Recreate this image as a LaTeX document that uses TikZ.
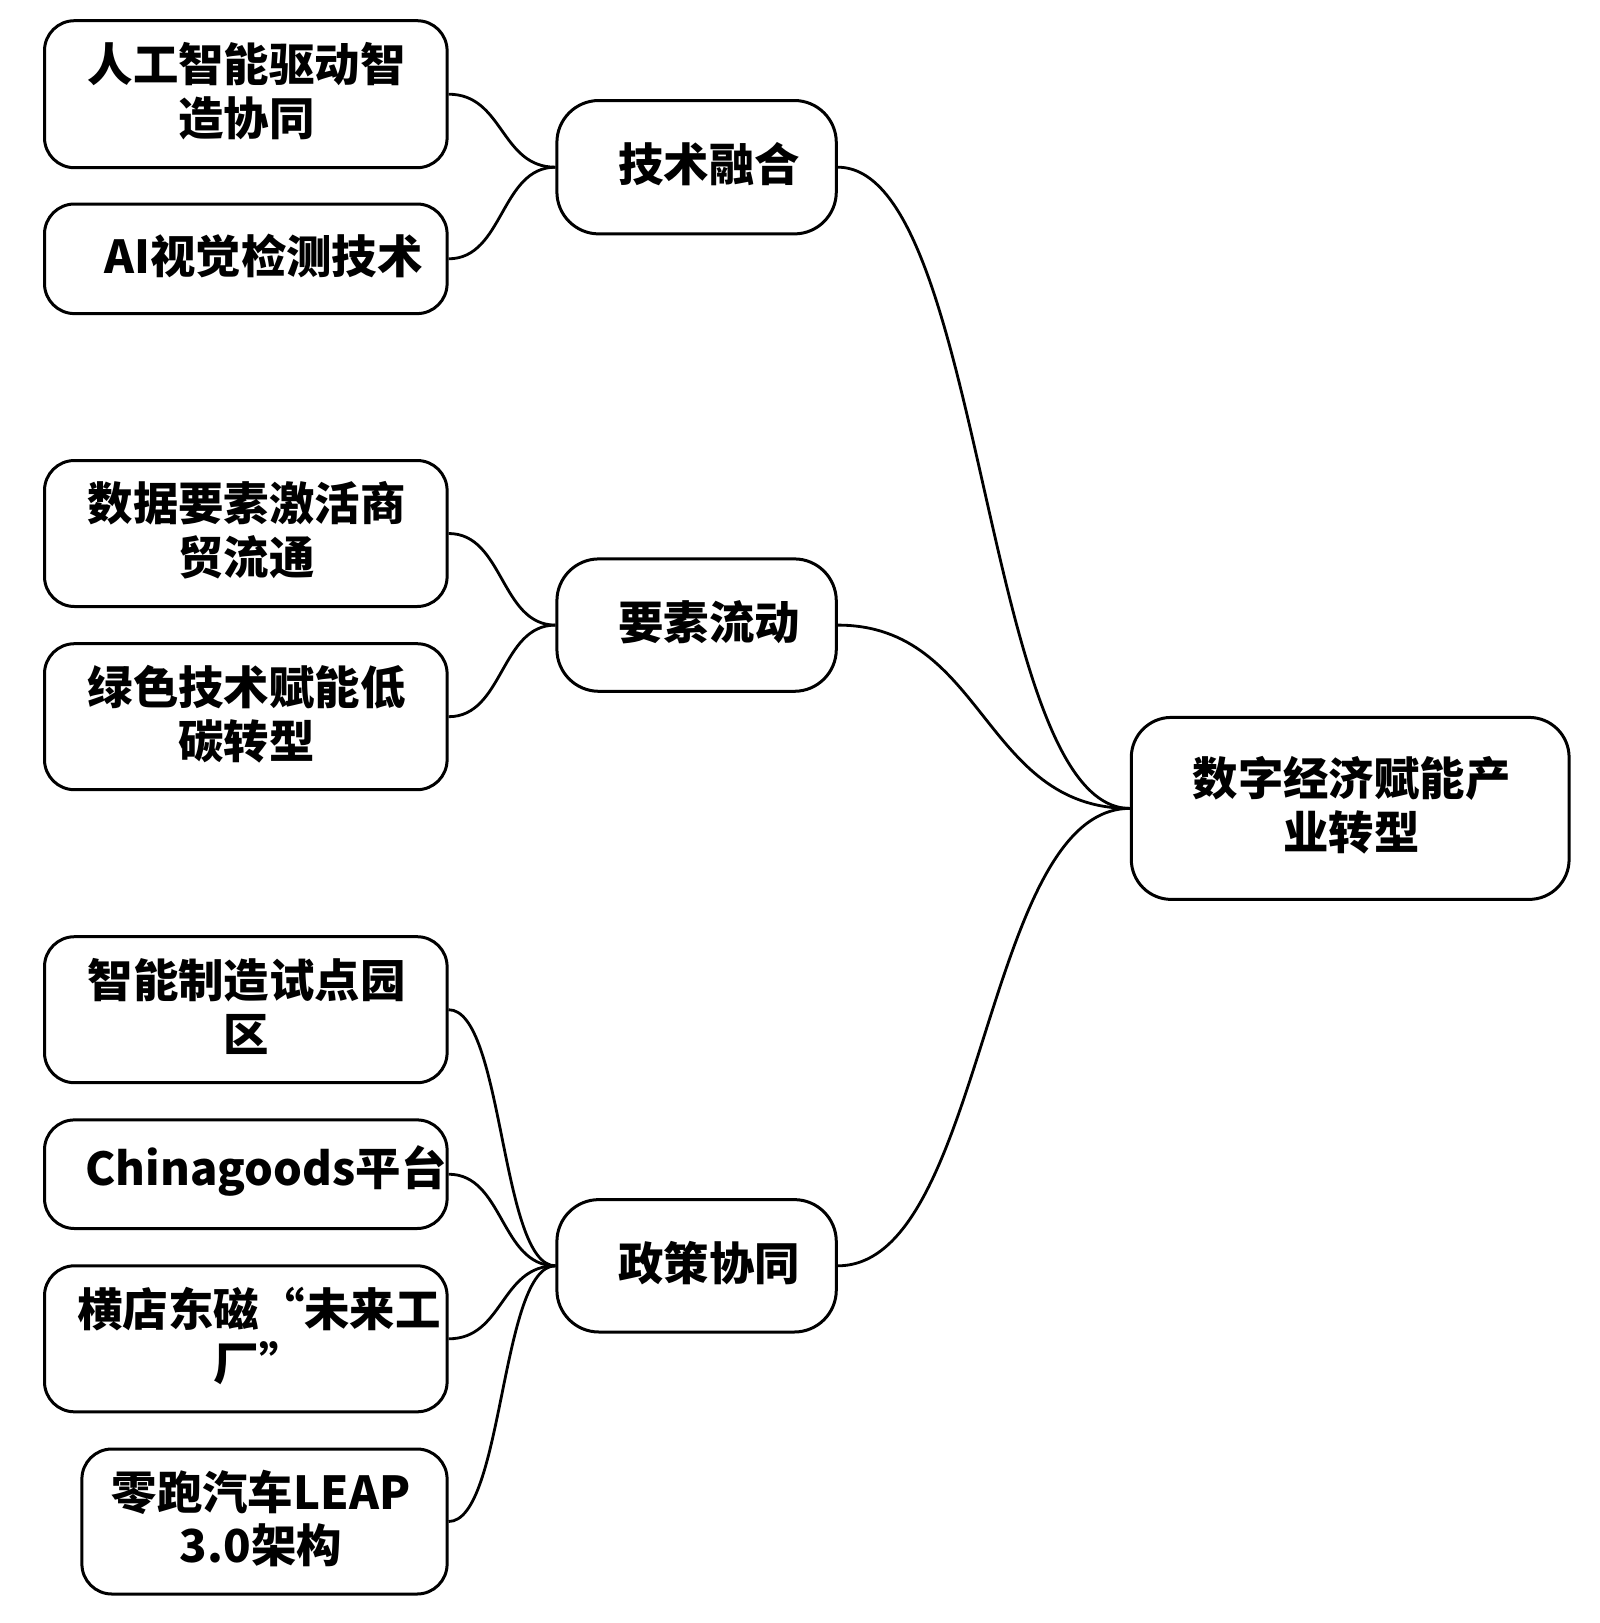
\documentclass[tikz,border=0pt]{standalone}
\usepackage{fontspec}
\setmainfont{Noto Sans CJK SC}
\begin{document}
\begin{tikzpicture}[x=0.5pt,y=-0.5pt,
  box/.style={draw, line width=1.5pt, rounded corners=15pt, inner sep=0pt},
  mid/.style={box, rounded corners=21pt},
  lbl/.style={font=\bfseries\fontsize{22.7}{27}\selectfont, align=center, inner sep=0pt},
  link/.style={line width=1.4pt}]
\useasboundingbox (0,0) rectangle (1600,1623);
% boxes
\node[box, minimum width=201.3pt, minimum height=73.5pt] (a) at (245.8,94.2) {};
\node[box, minimum width=201.3pt, minimum height=54.8pt] (b) at (245.8,258.8) {};
\node[mid, minimum width=139.7pt, minimum height=66.7pt] (t) at (696.6,167.2) {};
\node[box, minimum width=201.3pt, minimum height=73pt] (c) at (245.8,533.5) {};
\node[box, minimum width=201.3pt, minimum height=73pt] (d) at (245.8,716.7) {};
\node[mid, minimum width=139.7pt, minimum height=66.2pt] (y) at (696.6,625.1) {};
\node[box, minimum width=218.9pt, minimum height=91pt, rounded corners=20pt] (r) at (1350.2,808.4) {};
\node[box, minimum width=201.3pt, minimum height=73pt] (e) at (245.8,1009.7) {};
\node[box, minimum width=201.3pt, minimum height=54.3pt] (f) at (245.8,1174.2) {};
\node[box, minimum width=201.3pt, minimum height=73pt] (g) at (245.8,1338.8) {};
\node[box, minimum width=182.6pt, minimum height=72.5pt] (h) at (264.5,1521.5) {};
\node[mid, minimum width=139.7pt, minimum height=66.2pt] (p) at (696.6,1265.8) {};
% labels
\node[lbl] (ta) at (246.5,91) {人工智能驱动智\\造协同};
\node[lbl] (tb) at (263.5,256) {AI视觉检测技术};
\node[lbl] (tt) at (709,164) {技术融合};
\node[lbl] (tc) at (246.5,530.5) {数据要素激活商\\贸流通};
\node[lbl] (td) at (246.5,713.7) {绿色技术赋能低\\碳转型};
\node[lbl] (ty) at (709,622) {要素流动};
\node[lbl] (tr) at (1351.5,805) {数字经济赋能产\\业转型};
\node[lbl] (te) at (246.5,1006.7) {智能制造试点园\\区};
\node[lbl] (tf) at (266,1171) {Chinagoods平台};
\node[lbl] (tg) at (259,1335.8) {横店东磁“未来工\\厂”};
\node[lbl] (th) at (261,1518.5) {零跑汽车LEAP\\3.0架构};
\node[lbl] (tp) at (709,1262.8) {政策协同};
% connectors
\draw[link] (a.east) .. controls +(55,0) and +(-55,0) .. (t.west);
\draw[link] (b.east) .. controls +(55,0) and +(-55,0) .. (t.west);
\draw[link] (c.east) .. controls +(55,0) and +(-55,0) .. (y.west);
\draw[link] (d.east) .. controls +(55,0) and +(-55,0) .. (y.west);
\draw[link] (e.east) .. controls +(55,0) and +(-55,0) .. (p.west);
\draw[link] (f.east) .. controls +(55,0) and +(-55,0) .. (p.west);
\draw[link] (g.east) .. controls +(55,0) and +(-55,0) .. (p.west);
\draw[link] (h.east) .. controls +(55,0) and +(-55,0) .. (p.west);
\draw[link] (t.east) .. controls +(147,0) and +(-147,0) .. (r.west);
\draw[link] (y.east) .. controls +(147,0) and +(-147,0) .. (r.west);
\draw[link] (p.east) .. controls +(147,0) and +(-147,0) .. (r.west);
\end{tikzpicture}
\end{document}
